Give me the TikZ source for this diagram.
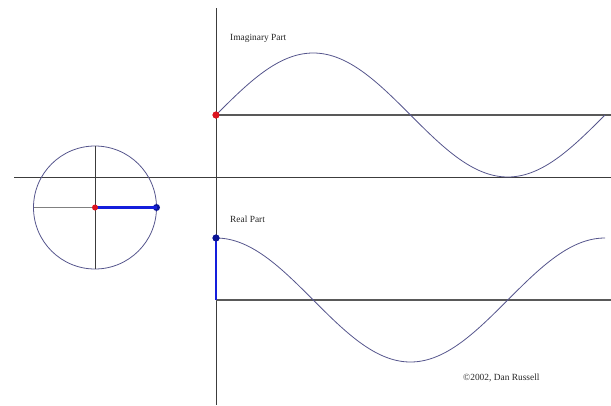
\documentclass[tikz,border=0pt]{standalone}
\usepackage{fontspec}
\setmainfont{Liberation Serif}
\definecolor{curve}{RGB}{85,85,140}
\definecolor{axis}{RGB}{60,60,60}
\definecolor{vecblue}{RGB}{20,30,220}
\definecolor{dotred}{RGB}{220,20,30}
\definecolor{dotblue}{RGB}{10,20,150}
\tikzset{
  axisline/.style={draw=axis, line width=0.9pt},
  baseline/.style={draw=axis!85, line width=1.3pt},
  wave/.style={draw=curve, line width=0.8pt, samples=200, smooth},
  vec/.style={draw=vecblue, line width=2.2pt},
  reddot/.style={circle, fill=dotred, inner sep=0pt, minimum size=7pt},
  bluedot/.style={circle, fill=dotblue, inner sep=0pt, minimum size=7pt},
  lbl/.style={font=\fontsize{9.4}{11}\selectfont, text=black!85, anchor=west, inner sep=0pt}
}
\begin{document}
\begin{tikzpicture}[x=1pt,y=-1pt]
\useasboundingbox (0,0) rectangle (611,405);
% main axes
\coordinate (vtop) at (216,8);
\coordinate (vbot) at (216,405);
\coordinate (hleft) at (14,177);
\coordinate (hright) at (611,177);
\draw[axisline] (vtop) -- (vbot);
\draw[axisline] (hleft) -- (hright);
% phasor circle
\coordinate (cc) at (95,207.5);
\coordinate (ctop) at (95,146);
\coordinate (cbot) at (95,269);
\coordinate (cleft) at (33.5,207.5);
\draw[draw=curve, line width=0.8pt] (cc) circle[radius=61.5];
\draw[axisline] (ctop) -- (cbot);
\draw[draw=gray, line width=0.9pt] (cleft) -- (cc);
\node[bluedot] (ctip) at (156.5,207.5) {};
\draw[vec] (cc) -- (ctip.center);
\node[reddot, minimum size=6pt] (corig) at (cc) {};
% imaginary part
\coordinate (ibr) at (611,115);
\node[reddot] (idot) at (216,115) {};
\draw[baseline] (idot.center) -- (ibr);
\draw[wave] plot[domain=0:389] ({\x+216},{115-62*sin(\x*0.925450)});
\node[reddot] at (216,115) {};
\node[lbl] (ilbl) at (230,38) {Imaginary Part};
% real part
\coordinate (rb) at (216,300);
\coordinate (rbr) at (611,300);
\draw[baseline] (rb) -- (rbr);
\draw[wave] plot[domain=0:389] ({\x+216},{300-62*cos(\x*0.925450)});
\node[bluedot] (rdot) at (216,238) {};
\draw[vec] (rb) -- (rdot.center);
\node[bluedot] at (216,238) {};
\node[lbl] (rlbl) at (230,219) {Real Part};
\node[lbl] (copy) at (463,378) {\textcopyright2002, Dan Russell};
\end{tikzpicture}
\end{document}
